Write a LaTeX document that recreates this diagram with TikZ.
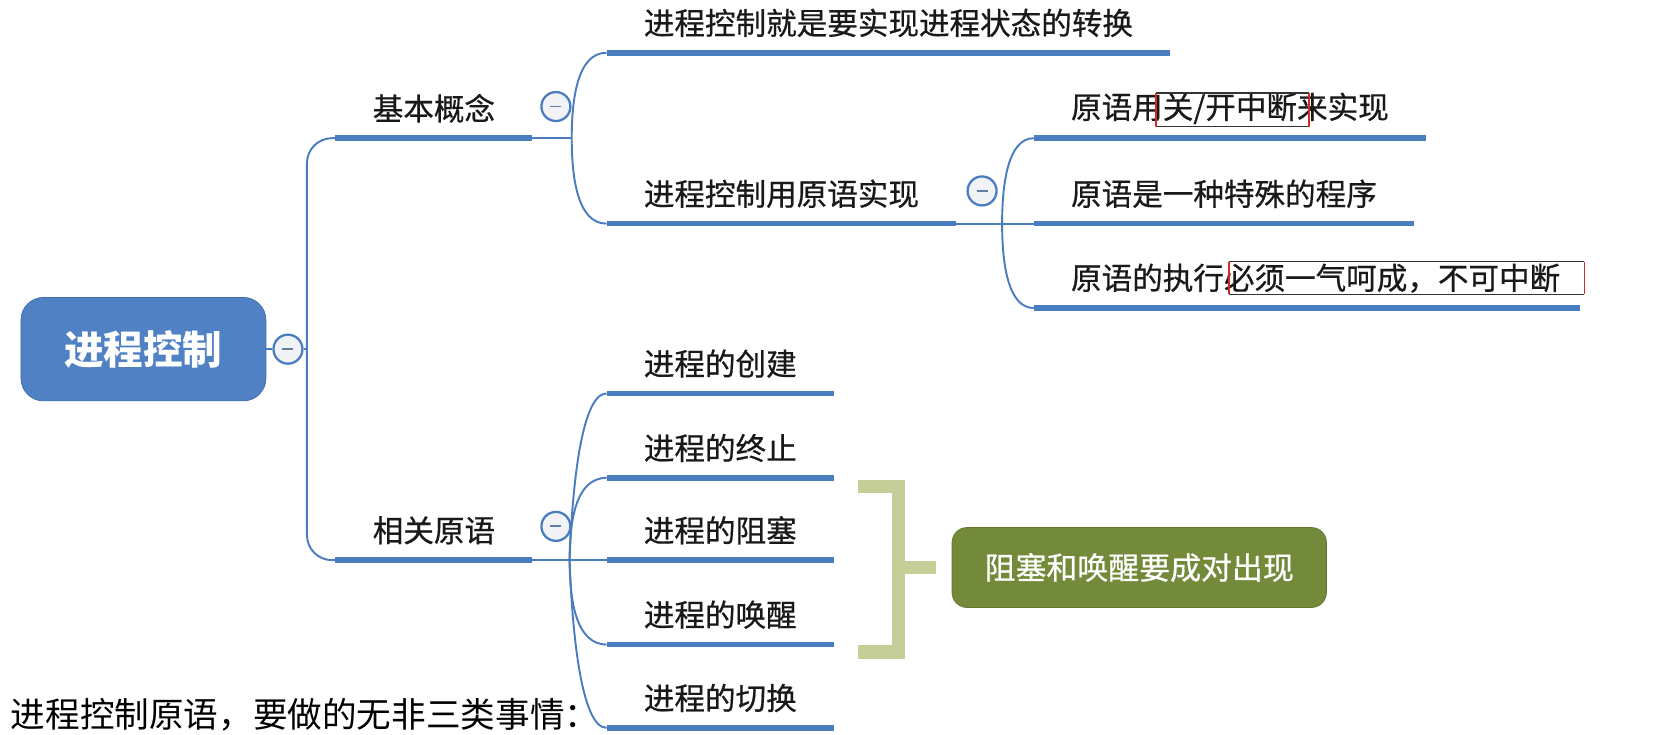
\documentclass[tikz,border=0pt]{standalone}
\usepackage{fontspec}
\newfontfamily\cjk{Noto Sans CJK SC}
\newfontfamily\cjkmid{Noto Sans CJK SC}[FakeBold=0.6]
\usetikzlibrary{positioning}

\definecolor{linkblue}{HTML}{4A7DC0}
\definecolor{rootblue}{HTML}{4F81C4}
\definecolor{rootedge}{HTML}{3F6EAE}
\definecolor{olive}{HTML}{738A3A}
\definecolor{paleolive}{HTML}{C4CE96}
\definecolor{foldfill}{HTML}{F1F2F6}
\definecolor{markred}{HTML}{D42A2A}

\tikzset{
  link/.style={linkblue, line width=1.1pt},
  uline/.style={linkblue, line width=3.2pt},
  topic/.style={anchor=south west, inner xsep=0.74cm, inner ysep=0pt,
    minimum height=1.18cm, text=black!90,
    font=\cjkmid\fontsize{17.4pt}{20pt}\selectfont},
  fold/.style={circle, draw=linkblue, fill=foldfill, line width=1.3pt,
    minimum size=0.58cm, inner sep=0pt,
    path picture={\draw[linkblue!60!gray, line width=1pt]
      ([xshift=-0.11cm]path picture bounding box.center) --
      ([xshift=0.11cm]path picture bounding box.center);}},
  rootbox/.style={rounded corners=0.45cm, fill=rootblue, draw=rootedge,
    minimum width=4.9cm, minimum height=2.07cm, text=white,
    font=\cjk\bfseries\fontsize{22.5pt}{26pt}\selectfont},
  notebox/.style={rounded corners=0.3cm, fill=olive, draw=olive!85!black,
    minimum width=7.49cm, minimum height=1.6cm, text=white,
    font=\cjkmid\fontsize{17.6pt}{20pt}\selectfont},
  pairbar/.style={paleolive, line width=0.27cm},
  hintline/.style={anchor=west, inner sep=0pt, text=black,
    font=\cjk\fontsize{19.7pt}{22pt}\selectfont},
  boxside/.style={markred, line width=0.8pt},
  boxtop/.style={black!80, line width=0.8pt}
}

\begin{document}
\begin{tikzpicture}[x=0.0211cm,y=-0.0211cm]
\useasboundingbox (0,0) rectangle (1568,696);

% root and first level
\node[rootbox] (root) at (136,331) {进程控制};
\node[fold] (f0) at (273,331) {};
\coordinate (trunk) at (291,331);
\node[topic] (basic) at (318,131) {基本概念};
\node[topic] (rel) at (318,531) {相关原语};

\draw[link] (root) -- (f0);
\draw[link] (f0) -- (trunk);
\draw[link,rounded corners=0.5cm] (trunk) |- (basic.south west);
\draw[link,rounded corners=0.5cm] (trunk) |- (rel.south west);

% basic concepts
\node[fold] (f1) at (527,101) {};
\coordinate (k1) at (542,131);
\node[topic] (goal) at (575,50) {进程控制就是要实现进程状态的转换};
\node[topic] (prim) at (575,212) {进程控制用原语实现};

\draw[link] (basic.south east) -- (k1);
\draw[link] (k1) .. controls +(0,-36) and +(-28,0) .. (goal.south west);
\draw[link] (k1) .. controls +(0,36) and +(-28,0) .. (prim.south west);

% primitives
\node[fold] (f2) at (931,181) {};
\coordinate (k2) at (950,212);
\node[topic] (p1) at (980,131) {原语用关/开中断来实现};
\node[topic] (p2) at (980,212) {原语是一种特殊的程序};
\node[topic] (p3) at (980,292) {原语的执行必须一气呵成，不可中断};

\draw[link] (prim.south east) -- (k2) -- (p2.south west);
\draw[link] (k2) .. controls +(0,-36) and +(-25,0) .. (p1.south west);
\draw[link] (k2) .. controls +(0,36) and +(-25,0) .. (p3.south west);

\draw[boxtop] (1096,88) -- (1241,88) (1096,120) -- (1241,120);
\draw[boxside] (1096,88) -- (1096,120) (1241,88) -- (1241,120);
\draw[boxtop] (1165,248) -- (1502,248) (1165,279) -- (1502,279);
\draw[boxside] (1165,248) -- (1165,279) (1502,248) -- (1502,279);

% related primitives
\node[fold] (f3) at (527,499) {};
\coordinate (k3) at (540,531);
\node[topic] (c1) at (575,373) {进程的创建};
\node[topic] (c2) at (575,453) {进程的终止};
\node[topic] (c3) at (575,531) {进程的阻塞};
\node[topic] (c4) at (575,611) {进程的唤醒};
\node[topic] (c5) at (575,690) {进程的切换};

\draw[link] (rel.south east) -- (k3) -- (c3.south west);
\draw[link] (k3) .. controls +(2,-60) and +(-25,0) .. (c1.south west);
\draw[link] (k3) .. controls +(0,-35) and +(-30,0) .. (c2.south west);
\draw[link] (k3) .. controls +(0,35) and +(-30,0) .. (c4.south west);
\draw[link] (k3) .. controls +(2,60) and +(-25,0) .. (c5.south west);

% underlines
\foreach \n in {basic,rel,goal,prim,p1,p2,c1,c2,c3,c4,c5}
  \draw[uline] (\n.south west) -- (\n.south east);
\draw[uline] (p3.south west) -- ([xshift=-0.35cm]p3.south east);

% pairing note
\node[notebox] (pair) at (1080,538) {阻塞和唤醒要成对出现};
\coordinate (brk) at (852,538);
\draw[pairbar] (813,461) -- (852,461) -- (852,618) -- (813,618);
\draw[pairbar] (brk) -- ([xshift=-0.32cm]pair.west);

\node[hintline] (hint) at (10,678) {进程控制原语，要做的无非三类事情：};
\end{tikzpicture}
\end{document}
